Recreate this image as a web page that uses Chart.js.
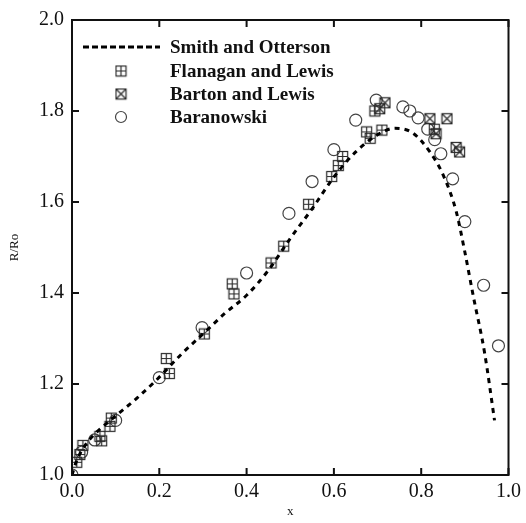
<!DOCTYPE html>
<html>
<head>
<meta charset="utf-8">
<script src="https://cdn.jsdelivr.net/npm/chart.js@4/dist/chart.umd.min.js"></script>
<style>
  html, body { margin: 0; padding: 0; background: #fff; }
  #wrap { width: 526px; height: 523px; }
</style>
</head>
<body>
<div id="wrap"><canvas id="chart" width="526" height="523"></canvas></div>
<script>
// Smith and Otterson curve (dashed)
const curveX = [0, 0.01, 0.03, 0.05, 0.08, 0.1, 0.15, 0.2, 0.25, 0.3, 0.35, 0.4, 0.45, 0.5, 0.55, 0.6, 0.65, 0.7, 0.74, 0.78, 0.82, 0.85, 0.88, 0.9, 0.92, 0.945, 0.968];
const curveR = [1.0, 1.03, 1.065, 1.088, 1.114, 1.13, 1.17, 1.215, 1.265, 1.31, 1.355, 1.395, 1.45, 1.52, 1.585, 1.655, 1.71, 1.748, 1.762, 1.752, 1.71, 1.66, 1.58, 1.49, 1.39, 1.27, 1.12];

// Flanagan and Lewis
const flanX = [0.011, 0.018, 0.025, 0.064, 0.068, 0.087, 0.09, 0.216, 0.223, 0.303, 0.367, 0.371, 0.456, 0.485, 0.542, 0.595, 0.61, 0.62, 0.675, 0.683, 0.694, 0.71, 0.83];
const flanR = [1.028, 1.045, 1.065, 1.085, 1.075, 1.107, 1.125, 1.256, 1.223, 1.31, 1.42, 1.398, 1.466, 1.503, 1.595, 1.656, 1.68, 1.70, 1.754, 1.74, 1.80, 1.758, 1.76];

// Barton and Lewis
const bartX = [0.705, 0.717, 0.82, 0.859, 0.834, 0.88, 0.888];
const bartR = [1.805, 1.818, 1.783, 1.783, 1.75, 1.72, 1.71];

// Baranowski
const baraX = [0, 0.022, 0.052, 0.10, 0.20, 0.298, 0.40, 0.497, 0.55, 0.60, 0.65, 0.697, 0.758, 0.774, 0.793, 0.815, 0.831, 0.845, 0.872, 0.90, 0.943, 0.977];
const baraR = [1.0, 1.05, 1.077, 1.12, 1.214, 1.324, 1.444, 1.575, 1.645, 1.715, 1.78, 1.824, 1.809, 1.80, 1.785, 1.76, 1.737, 1.706, 1.651, 1.557, 1.417, 1.284];

const seriesNames = ['Smith and Otterson', 'Flanagan and Lewis', 'Barton and Lewis', 'Baranowski'];
const xTicks = [0, 0.2, 0.4, 0.6, 0.8, 1.0];
const yTicks = [1.0, 1.2, 1.4, 1.6, 1.8, 2.0];

const toPts = (xs, ys) => xs.map((x, i) => ({ x, y: ys[i] }));
const SERIF = '"Liberation Serif", "DejaVu Serif", serif';
const INK = '#111';

// small square markers: with plus or with X
function makeBox(kind) {
  const c = document.createElement('canvas');
  c.width = 13; c.height = 13;
  const g = c.getContext('2d');
  g.strokeStyle = '#2a2a2a';
  g.lineWidth = 1.2;
  g.strokeRect(1.5, 1.5, 10, 10);
  g.beginPath();
  if (kind === 'plus') {
    g.moveTo(1.5, 6.5); g.lineTo(11.5, 6.5);
    g.moveTo(6.5, 1.5); g.lineTo(6.5, 11.5);
  } else {
    g.moveTo(1.5, 1.5); g.lineTo(11.5, 11.5);
    g.moveTo(11.5, 1.5); g.lineTo(1.5, 11.5);
  }
  g.stroke();
  return c;
}
const plusBox = makeBox('plus');
const crossBox = makeBox('cross');

// frame + inward ticks on all four sides
const framePlugin = {
  id: 'frame',
  afterDatasetsDraw(chart) {
    const { ctx, chartArea: a, scales } = chart;
    const tl = 7;
    ctx.save();
    ctx.strokeStyle = INK;
    ctx.lineWidth = 2;
    ctx.strokeRect(a.left, a.top, a.right - a.left, a.bottom - a.top);
    ctx.beginPath();
    xTicks.forEach(v => {
      const px = scales.x.getPixelForValue(v);
      ctx.moveTo(px, a.bottom); ctx.lineTo(px, a.bottom - tl);
      ctx.moveTo(px, a.top); ctx.lineTo(px, a.top + tl);
    });
    yTicks.forEach(v => {
      const py = scales.y.getPixelForValue(v);
      ctx.moveTo(a.left, py); ctx.lineTo(a.left + tl, py);
      ctx.moveTo(a.right, py); ctx.lineTo(a.right - tl, py);
    });
    ctx.stroke();
    ctx.restore();
  }
};

// legend inside the plot, top left
const legendPlugin = {
  id: 'innerLegend',
  afterDraw(chart) {
    const { ctx } = chart;
    const rows = [47, 71, 94, 117];
    const textX = 170, symX = 121;
    ctx.save();
    ctx.font = 'bold 19px ' + SERIF;
    ctx.fillStyle = INK;
    ctx.textBaseline = 'middle';
    seriesNames.forEach((name, i) => {
      const y = rows[i];
      if (i === 0) {
        ctx.save();
        ctx.strokeStyle = '#000';
        ctx.lineWidth = 3;
        ctx.setLineDash([6, 3]);
        ctx.beginPath();
        ctx.moveTo(83, y); ctx.lineTo(160, y);
        ctx.stroke();
        ctx.restore();
      } else if (i === 1) {
        ctx.drawImage(plusBox, symX - 6.5, y - 6.5);
      } else if (i === 2) {
        ctx.drawImage(crossBox, symX - 6.5, y - 6.5);
      } else {
        ctx.save();
        ctx.strokeStyle = '#444';
        ctx.lineWidth = 1.2;
        ctx.beginPath();
        ctx.arc(symX, y, 5.5, 0, Math.PI * 2);
        ctx.stroke();
        ctx.restore();
      }
      ctx.fillText(name, textX, y + 1);
    });
    ctx.restore();
  }
};

new Chart(document.getElementById('chart'), {
  type: 'scatter',
  data: {
    datasets: [
      {
        label: seriesNames[0],
        data: toPts(curveX, curveR),
        showLine: true,
        borderColor: '#000',
        borderWidth: 3,
        borderDash: [5, 5],
        pointRadius: 0,
        tension: 0.4,
        cubicInterpolationMode: 'monotone',
        fill: false
      },
      {
        label: seriesNames[1],
        data: toPts(flanX, flanR),
        pointStyle: plusBox,
        pointRadius: 6.5
      },
      {
        label: seriesNames[2],
        data: toPts(bartX, bartR),
        pointStyle: crossBox,
        pointRadius: 6.5
      },
      {
        label: seriesNames[3],
        data: toPts(baraX, baraR),
        pointStyle: 'circle',
        pointRadius: 6,
        borderColor: '#444',
        borderWidth: 1.2,
        backgroundColor: 'rgba(255,255,255,0)'
      }
    ]
  },
  options: {
    responsive: false,
    animation: false,
    layout: { padding: { top: 18, right: 15, left: 7, bottom: 2 } },
    plugins: {
      legend: { display: false },
      tooltip: { enabled: false }
    },
    scales: {
      x: {
        type: 'linear',
        min: 0, max: 1,
        afterBuildTicks: s => { s.ticks = xTicks.map(v => ({ value: v })); },
        afterFit: s => { s.height = 46; },
        grid: { display: false, drawTicks: false },
        border: { display: false },
        ticks: {
          padding: 5,
          color: INK,
          font: { family: SERIF, size: 20 },
          maxRotation: 0,
          callback: v => v.toFixed(1)
        },
        title: {
          display: true, text: 'x', color: INK,
          font: { family: SERIF, size: 13 },
          padding: { top: 0, bottom: 2 }
        }
      },
      y: {
        type: 'linear',
        min: 1, max: 2,
        afterBuildTicks: s => { s.ticks = yTicks.map(v => ({ value: v })); },
        afterFit: s => { s.width = 65; },
        grid: { display: false, drawTicks: false },
        border: { display: false },
        ticks: {
          padding: 8,
          color: INK,
          font: { family: SERIF, size: 20 },
          callback: v => v.toFixed(1)
        },
        title: {
          display: true, text: 'R/Ro', color: INK,
          font: { family: SERIF, size: 13 },
          padding: { top: 0, bottom: 0 }
        }
      }
    }
  },
  plugins: [framePlugin, legendPlugin]
});
</script>
</body>
</html>
